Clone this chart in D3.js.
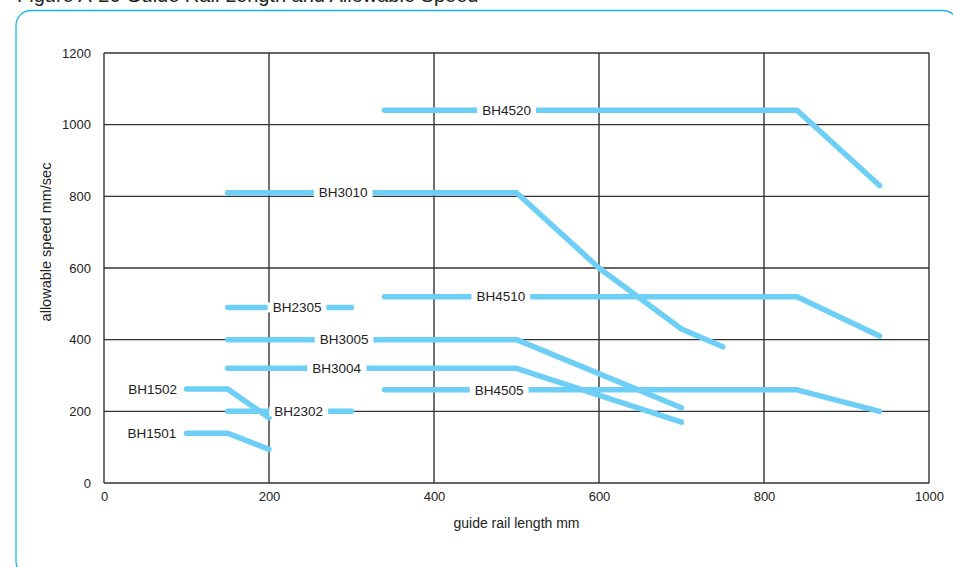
<!DOCTYPE html>
<html><head><meta charset="utf-8">
<script src="https://cdn.jsdelivr.net/npm/d3@7"></script>
<style>body{margin:0;background:#fff}svg{display:block}</style>
</head><body>
<svg id="c" width="953" height="567"></svg>
<script>
const titleText = "Figure A-26 Guide Rail Length and Allowable Speed";
const xTicks = [0, 200, 400, 600, 800, 1000];
const yTicks = [0, 200, 400, 600, 800, 1000, 1200];
const names = ["BH4520","BH3010","BH4510","BH2305","BH3005","BH3004","BH4505","BH1502","BH2302","BH1501"];
const lengths = [
  [340, 840, 940],
  [150, 500, 600, 700, 750],
  [340, 840, 940],
  [150, 300],
  [150, 500, 700],
  [150, 500, 700],
  [340, 840, 940],
  [100, 150, 200],
  [150, 300],
  [100, 150, 200]
];
const speeds = [
  [1040, 1040, 830],
  [810, 810, 600, 430, 380],
  [520, 520, 410],
  [490, 490],
  [400, 400, 210],
  [320, 320, 170],
  [260, 260, 200],
  [262, 262, 182],
  [200, 200],
  [139, 139, 94]
];
const labelX = [488, 290, 481, 234, 291, 282, 479, 59, 236, 58];

const svg = d3.select("#c");
const m = {left:104, right:929, top:53, bottom:483};
const x = d3.scaleLinear().domain([0,1000]).range([m.left, m.right]);
const y = d3.scaleLinear().domain([0,1200]).range([m.bottom, m.top]);
const font = "Liberation Sans, Arial, Helvetica, sans-serif";

// title (partially cut off at top, as in the reference)
svg.append("text").attr("x",17).attr("y",1.5).attr("font-family",font)
  .attr("font-size",20).attr("fill","#222").text(titleText);

// frame
svg.append("rect").attr("x",16).attr("y",10.5).attr("width",942).attr("height",566).attr("rx",15).attr("ry",15)
  .attr("fill","none").attr("stroke","#1ab2ec").attr("stroke-width",1.3);

// grid
const g = svg.append("g");
g.selectAll("line.h").data(yTicks).join("line")
  .attr("x1",m.left).attr("x2",m.right).attr("y1",d=>y(d)).attr("y2",d=>y(d))
  .attr("stroke","#333").attr("stroke-width",1.4);
g.selectAll("line.v").data(xTicks).join("line")
  .attr("y1",m.top).attr("y2",m.bottom).attr("x1",d=>x(d)).attr("x2",d=>x(d))
  .attr("stroke","#333").attr("stroke-width",1.4);

// axes labels via d3 axes
const ax = svg.append("g").attr("transform",`translate(0,${m.bottom})`)
  .call(d3.axisBottom(x).tickValues(xTicks).tickSize(0).tickPadding(9).tickFormat(d3.format("d")));
const ay = svg.append("g").attr("transform",`translate(${m.left},0)`)
  .call(d3.axisLeft(y).tickValues(yTicks).tickSize(0).tickPadding(13).tickFormat(d3.format("d")));
[ax, ay].forEach(a=>{
  a.select(".domain").remove();
  a.selectAll("text").attr("font-family",font).attr("font-size",13).attr("fill","#222");
});

svg.append("text").attr("x",(m.left+m.right)/2).attr("y",528).attr("text-anchor","middle")
  .attr("font-family",font).attr("font-size",14).attr("fill","#222").text("guide rail length mm");
svg.append("text").attr("transform","translate(51,242) rotate(-90)").attr("text-anchor","middle")
  .attr("font-family",font).attr("font-size",14.5).attr("fill","#222").text("allowable speed mm/sec");

// series lines
const line = d3.line().x(d=>x(d[0])).y(d=>y(d[1]));
names.forEach((n,i)=>{
  const pts = lengths[i].map((v,j)=>[v, speeds[i][j]]);
  svg.append("path").attr("d", line(pts)).attr("fill","none").attr("stroke","#6dcff6")
    .attr("stroke-width",5.5).attr("stroke-linecap","round").attr("stroke-linejoin","round");
});

// labels with white knock-out
names.forEach((n,i)=>{
  const lg = svg.append("g");
  const bg = lg.append("rect").attr("fill","#fff");
  const t = lg.append("text").attr("x",x(labelX[i])).attr("y",y(speeds[i][0])).attr("dy","0.35em")
    .attr("text-anchor","middle").attr("font-family",font).attr("font-size",13.5).attr("fill","#222").text(n);
  const b = t.node().getBBox();
  bg.attr("x",b.x-5).attr("y",y(speeds[i][0])-5).attr("width",b.width+10).attr("height",10);
});
</script>
</body></html>
